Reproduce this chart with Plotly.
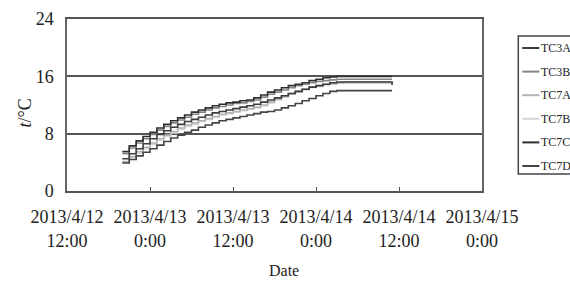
import plotly.graph_objects as go
import pandas as pd

# ---- data ----
times = pd.date_range("2013-04-12 20:00", "2013-04-14 11:00", freq="1h")

names = ["TC3A", "TC3B", "TC7A", "TC7B", "TC7C", "TC7D"]
colors = ["#3c3c3c", "#858585", "#b4b4b4", "#d6d6d6", "#2e2e2e", "#444444"]

tc3a = [4.5, 5.2, 5.9, 6.6, 7.3, 7.9, 8.4, 8.9, 9.3, 9.7, 10.0, 10.3, 10.6, 10.9, 11.1, 11.3, 11.5, 11.7, 11.9, 12.1,
        12.4, 12.7, 13.0, 13.3, 13.6, 13.9, 14.2, 14.5, 14.7, 14.9, 15.1, 15.2, 15.2, 15.2, 15.2, 15.2, 15.2, 15.2, 15.2, 14.8]
tc3b = [5.2, 6.0, 6.7, 7.3, 7.9, 8.5, 9.0, 9.5, 9.9, 10.3, 10.7, 11.0, 11.3, 11.6, 11.8, 12.0, 12.2, 12.3, 12.5, 12.7,
        13.1, 13.5, 13.8, 14.1, 14.4, 14.7, 14.9, 15.1, 15.3, 15.4, 15.5, 15.6, 15.6, 15.6, 15.6, 15.6, 15.6, 15.6, 15.6, 15.6]
tc7a = [4.1, 4.8, 5.5, 6.1, 6.7, 7.3, 7.8, 8.3, 8.8, 9.2, 9.5, 9.8, 10.1, 10.4, 10.7, 10.9, 11.1, 11.3, 11.5, 11.7,
        12.0, 12.4, 12.8, 13.2, 13.6, 13.9, 14.2, 14.5, 14.7, 14.9, 15.0, 15.1, 15.2, 15.2, 15.2, 15.2, 15.2, 15.2, 15.2, 15.2]
tc7b = [4.0, 4.7, 5.3, 5.9, 6.5, 7.1, 7.6, 8.1, 8.6, 9.0, 9.3, 9.7, 10.0, 10.3, 10.6, 10.8, 11.0, 11.2, 11.4, 11.6,
        11.9, 12.3, 12.7, 13.1, 13.5, 13.8, 14.1, 14.4, 14.6, 14.8, 14.9, 15.0, 15.0, 15.0, 15.0, 15.0, 15.0, 15.0, 15.0, 15.0]
tc7c = [5.5, 6.3, 7.0, 7.6, 8.2, 8.8, 9.3, 9.8, 10.2, 10.6, 11.0, 11.3, 11.6, 11.9, 12.1, 12.3, 12.4, 12.6, 12.7, 13.0,
        13.4, 13.8, 14.1, 14.4, 14.7, 14.9, 15.1, 15.4, 15.6, 15.8, 15.9, 16.0, 16.0, 16.0, 16.0, 16.0, 16.0, 16.0, 16.0, 16.0]
tc7d = [3.9, 4.4, 4.9, 5.4, 5.9, 6.4, 6.9, 7.4, 7.8, 8.2, 8.5, 8.9, 9.2, 9.5, 9.8, 10.0, 10.2, 10.4, 10.6, 10.8,
        11.0, 11.1, 11.3, 11.6, 11.9, 12.2, 12.6, 12.9, 13.3, 13.6, 13.9, 14.0, 14.0, 14.0, 14.0, 14.0, 14.0, 14.0, 14.0, 14.0]
series = [tc3a, tc3b, tc7a, tc7b, tc7c, tc7d]

tick_vals = pd.date_range("2013-04-12 12:00", "2013-04-15 00:00", freq="12h")
tick_text = ["2013/4/12<br>12:00", "2013/4/13<br>0:00", "2013/4/13<br>12:00",
             "2013/4/14<br>0:00", "2013/4/14<br>12:00", "2013/4/15<br>0:00"]
y_ticks = [0, 8, 16, 24]

FONT = "Liberation Serif, Times New Roman, serif"

fig = go.Figure()
draw_order = [3, 2, 1, 0, 5, 4]
for i in draw_order:
    fig.add_trace(go.Scatter(x=times, y=series[i], name=names[i], mode="lines",
                             line=dict(color=colors[i], width=1.6, shape="hv"),
                             showlegend=False))

fig.update_layout(
    width=570, height=282,
    margin=dict(l=67, r=88, t=19, b=91, autoexpand=False),
    plot_bgcolor="white", paper_bgcolor="white",
    font=dict(family=FONT, size=18, color="#222"),
    xaxis=dict(type="date", range=[tick_vals[0], tick_vals[-1]],
               tickvals=tick_vals, ticktext=tick_text,
               ticks="inside", ticklen=4, tickcolor="#555", tickwidth=1,
               showline=True, linecolor="#555", linewidth=1.5, mirror=True,
               showgrid=False, zeroline=False, ticklabelstandoff=9,
               tickfont=dict(family=FONT, size=18, color="#222")),
    yaxis=dict(range=[0, 24], tickvals=y_ticks, ticks="",
               showline=True, linecolor="#666", linewidth=1.5, mirror=True,
               showgrid=True, gridcolor="#555", gridwidth=2, zeroline=False,
               ticklabelstandoff=8,
               tickfont=dict(family=FONT, size=18, color="#222")),
)

# axis titles
fig.add_annotation(text="Date", xref="paper", yref="paper", x=0.524, y=(191.0 - 270.0) / 172.0,
                   showarrow=False, font=dict(family=FONT, size=16, color="#222"),
                   xanchor="center", yanchor="middle")
fig.add_annotation(text="<i>t</i>/°C", xref="paper", yref="paper", x=-0.1, y=0.453,
                   showarrow=False, textangle=-90,
                   font=dict(family=FONT, size=18, color="#222"),
                   xanchor="center", yanchor="middle")

# legend (drawn manually, Excel-style)
def px_x(px):
    return (px - 66.7) / 415.0

def px_y(py):
    return (191.0 - py) / 172.0

fig.add_shape(type="rect", xref="paper", yref="paper",
              x0=px_x(518), x1=px_x(600), y0=px_y(174), y1=px_y(36),
              line=dict(color="#444", width=1.5), fillcolor="white", layer="above")
for k, (nm, col) in enumerate(zip(names, colors)):
    py = 48 + k * 23.6
    fig.add_shape(type="line", xref="paper", yref="paper",
                  x0=px_x(522), x1=px_x(539), y0=px_y(py), y1=px_y(py),
                  line=dict(color=col, width=2))
    fig.add_annotation(text=nm, xref="paper", yref="paper", x=px_x(539), y=px_y(py),
                       showarrow=False, xanchor="left", yanchor="middle",
                       font=dict(family=FONT, size=12, color="#222"))

fig.write_html("out.html", config={"displayModeBar": False},
               post_script="document.body.style.margin='0';document.body.style.overflow='hidden';")
